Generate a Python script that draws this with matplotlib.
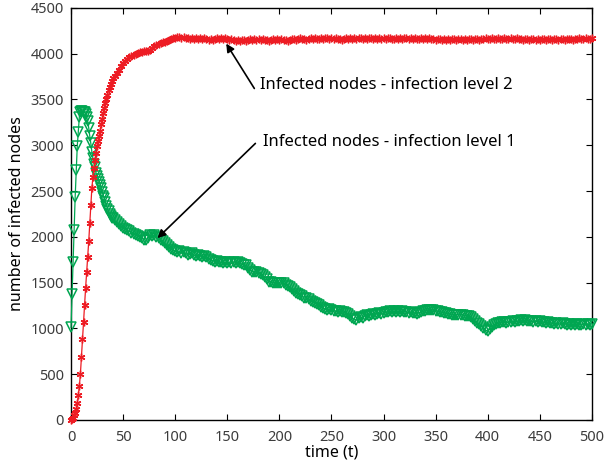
import matplotlib
matplotlib.use("Agg")
import matplotlib.pyplot as plt

# time steps: every step early on, every second step later
t_early = list(range(0, 41))
t_late = list(range(42, 501, 2))
time = t_early + t_late

level1_early = [1010, 1370, 1730, 2070, 2440, 2730, 2990, 3150, 3310, 3360,
                3370, 3370, 3360, 3360, 3340, 3310, 3260, 3190, 3100, 3020,
                2930, 2860, 2800, 2760, 2700, 2660, 2630, 2600, 2570, 2530,
                2490, 2450, 2420, 2380, 2340, 2300, 2280, 2250, 2230, 2210,
                2200]
level1_late = [2180, 2160, 2140, 2120, 2100, 2080, 2070, 2060, 2040, 2030,
               2020, 2010, 2000, 1990, 1970, 1960, 1990, 2020, 2010, 2020,
               2000, 1990, 1970, 1950, 1930, 1910, 1890, 1870, 1860, 1840,
               1830, 1840, 1820, 1830, 1820, 1800, 1810, 1820, 1800, 1790,
               1800, 1790, 1780, 1790, 1780, 1760, 1750, 1740, 1730, 1740,
               1730, 1720, 1710, 1720, 1710, 1720, 1710, 1720, 1710, 1720,
               1710, 1700, 1690, 1690, 1660, 1640, 1620, 1620, 1610, 1600,
               1590, 1580, 1560, 1540, 1510, 1510, 1500, 1500, 1490, 1500,
               1490, 1490, 1470, 1460, 1450, 1430, 1410, 1390, 1370, 1360,
               1350, 1330, 1330, 1320, 1300, 1290, 1280, 1270, 1250, 1230,
               1220, 1210, 1200, 1210, 1200, 1190, 1190, 1180, 1190, 1180,
               1180, 1170, 1160, 1140, 1110, 1100, 1090, 1110, 1120, 1110,
               1140, 1150, 1140, 1150, 1160, 1150, 1160, 1170, 1160, 1170,
               1180, 1180, 1190, 1180, 1190, 1180, 1190, 1180, 1190, 1180,
               1180, 1170, 1180, 1170, 1170, 1160, 1170, 1180, 1190, 1190,
               1200, 1200, 1200, 1200, 1190, 1190, 1180, 1180, 1170, 1170,
               1160, 1160, 1150, 1150, 1150, 1150, 1150, 1150, 1140, 1140,
               1130, 1120, 1100, 1080, 1060, 1050, 1030, 1000, 980, 970,
               990, 1020, 1040, 1050, 1060, 1060, 1070, 1070, 1060, 1070,
               1070, 1080, 1070, 1080, 1080, 1090, 1080, 1090, 1080, 1080,
               1080, 1070, 1080, 1070, 1080, 1070, 1070, 1060, 1070, 1060,
               1060, 1050, 1060, 1050, 1050, 1060, 1050, 1040, 1050, 1040,
               1050, 1040, 1050, 1040, 1040, 1050, 1040, 1050, 1040, 1050]

level2_early = [0, 10, 25, 50, 80, 120, 180, 270, 370, 500,
                690, 880, 1070, 1260, 1440, 1610, 1780, 1950, 2150, 2350,
                2530, 2650, 2750, 2840, 2920, 2990, 3050, 3100, 3160, 3230,
                3290, 3350, 3410, 3460, 3510, 3550, 3600, 3640, 3670, 3700,
                3730]
level2_late = [3760, 3790, 3820, 3860, 3900, 3920, 3940, 3960, 3980, 3990,
               4000, 4010, 4020, 4020, 4030, 4030, 4030, 4040, 4060, 4080,
               4100, 4110, 4120, 4130, 4130, 4140, 4150, 4160, 4170, 4170,
               4180, 4180, 4170, 4180, 4170, 4170, 4160, 4170, 4160, 4170,
               4160, 4170, 4160, 4170, 4160, 4150, 4160, 4150, 4160, 4170,
               4160, 4170, 4160, 4170, 4160, 4150, 4160, 4150, 4140, 4150,
               4140, 4150, 4150, 4140, 4150, 4160, 4150, 4160, 4150, 4160,
               4150, 4160, 4150, 4150, 4140, 4150, 4160, 4150, 4160, 4150,
               4160, 4150, 4150, 4140, 4150, 4160, 4160, 4150, 4160, 4170,
               4160, 4160, 4150, 4160, 4170, 4160, 4170, 4160, 4160, 4170,
               4160, 4170, 4170, 4160, 4170, 4160, 4170, 4160, 4160, 4150,
               4160, 4170, 4160, 4170, 4160, 4170, 4160, 4170, 4170, 4160,
               4170, 4160, 4170, 4170, 4160, 4170, 4160, 4170, 4160, 4170,
               4160, 4170, 4170, 4160, 4160, 4170, 4160, 4170, 4160, 4170,
               4170, 4160, 4170, 4160, 4170, 4160, 4160, 4170, 4160, 4170,
               4160, 4170, 4160, 4160, 4150, 4160, 4160, 4150, 4160, 4150,
               4160, 4150, 4160, 4160, 4150, 4160, 4160, 4150, 4160, 4150,
               4160, 4160, 4150, 4160, 4160, 4150, 4160, 4160, 4170, 4160,
               4160, 4170, 4160, 4160, 4170, 4160, 4160, 4170, 4160, 4160,
               4170, 4160, 4160, 4170, 4160, 4160, 4150, 4160, 4160, 4150,
               4160, 4160, 4150, 4160, 4150, 4160, 4160, 4150, 4160, 4160,
               4150, 4160, 4160, 4150, 4160, 4160, 4150, 4160, 4160, 4160,
               4150, 4160, 4160, 4170, 4160, 4160, 4170, 4160, 4160, 4170]

level1 = level1_early + level1_late
level2 = level2_early + level2_late

xticks = list(range(0, 501, 50))
yticks = list(range(0, 4501, 500))

RED = "#ed1c24"
GREEN = "#00a651"
TICK_GRAY = "#3c3c3c"

plt.rcParams['font.family'] = ['Noto Sans', 'DejaVu Sans']

fig = plt.figure(figsize=(6.07, 4.65), dpi=100)
ax = fig.add_axes([0.117, 0.097, 0.858, 0.886])

ax.plot(time, level1, color=GREEN, lw=0.9, marker='v', markersize=6.5,
        markerfacecolor='none', markeredgecolor=GREEN, markeredgewidth=1.1,
        clip_on=False, zorder=3)
ax.plot(time, level2, color=RED, lw=0.9, marker=(6, 2, 0), markersize=5.5,
        markeredgecolor=RED, markeredgewidth=1.0, clip_on=False, zorder=3)

ax.set_xlim(0, 500)
ax.set_ylim(0, 4500)
ax.set_xticks(xticks)
ax.set_yticks(yticks)
ax.tick_params(direction='in', length=4, width=0.8, top=True, right=True,
               labelsize=10.5, labelcolor=TICK_GRAY)
ax.tick_params(axis='x', pad=7)
ax.tick_params(axis='y', pad=5)
for s in ax.spines.values():
    s.set_linewidth(1.0)

ax.set_xlabel('time (t)', fontsize=11.5, labelpad=0)
ax.set_ylabel('number of infected nodes', fontsize=11.5, labelpad=4)

ax.annotate('', xy=(149, 4110), xytext=(176, 3620),
            arrowprops=dict(arrowstyle='-|>', color='black', lw=1.2,
                            mutation_scale=12, shrinkA=0, shrinkB=0))
ax.text(181, 3660, 'Infected nodes - infection level 2', fontsize=12,
        ha='left', va='center')

ax.annotate('', xy=(83, 1985), xytext=(177, 3020),
            arrowprops=dict(arrowstyle='-|>', color='black', lw=1.2,
                            mutation_scale=12, shrinkA=0, shrinkB=0))
ax.text(184, 3040, 'Infected nodes - infection level 1', fontsize=12,
        ha='left', va='center')

fig.savefig('out.png', dpi=100)
